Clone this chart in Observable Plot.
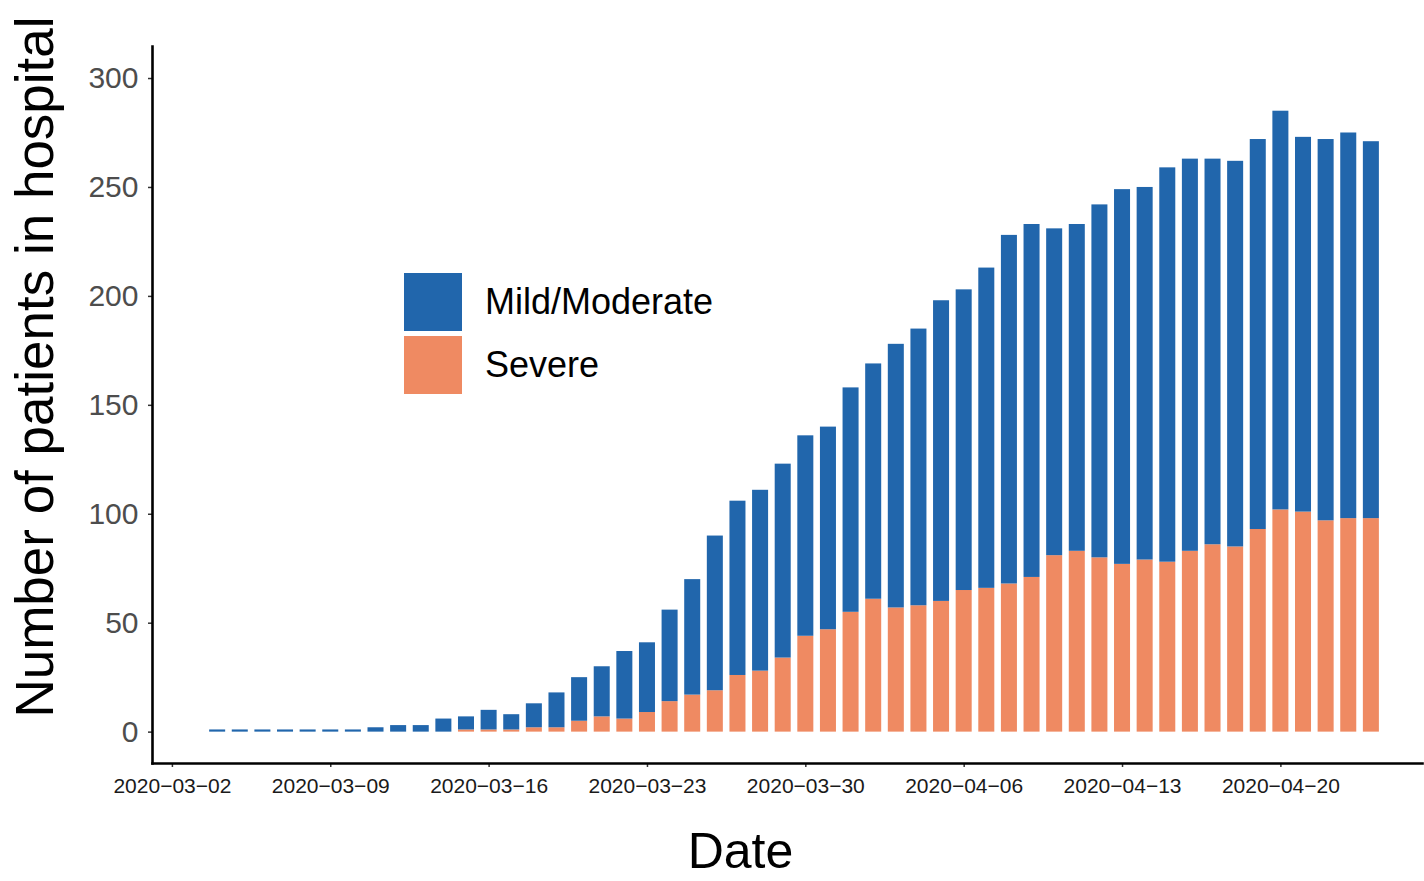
<!DOCTYPE html>
<html>
<head>
<meta charset="utf-8">
<script src="https://cdn.jsdelivr.net/npm/d3@7"></script>
<script src="https://cdn.jsdelivr.net/npm/@observablehq/plot@0.6"></script>
<style>
  html, body { margin: 0; padding: 0; background: #fff; }
  #wrap { position: relative; width: 1424px; height: 881px; font-family: "Liberation Sans", Arial, sans-serif; }
  #legend { position: absolute; left: 404px; top: 273px; }
  .item { position: relative; height: 58px; width: 360px; margin-bottom: 5px; }
  .sw { position: absolute; left: 0; top: 0; width: 58px; height: 58px; }
  .lab { position: absolute; left: 81px; top: 0; height: 58px; line-height: 58px; font-size: 36px; color: #000; white-space: nowrap; }
</style>
</head>
<body>
<div id="wrap"><div id="chart"></div><div id="legend"></div></div>
<script>
// ---- data ----
const dates = [
  "2020-03-04","2020-03-05","2020-03-06","2020-03-07","2020-03-08","2020-03-09","2020-03-10",
  "2020-03-11","2020-03-12","2020-03-13","2020-03-14","2020-03-15","2020-03-16","2020-03-17",
  "2020-03-18","2020-03-19","2020-03-20","2020-03-21","2020-03-22","2020-03-23","2020-03-24",
  "2020-03-25","2020-03-26","2020-03-27","2020-03-28","2020-03-29","2020-03-30","2020-03-31",
  "2020-04-01","2020-04-02","2020-04-03","2020-04-04","2020-04-05","2020-04-06","2020-04-07",
  "2020-04-08","2020-04-09","2020-04-10","2020-04-11","2020-04-12","2020-04-13","2020-04-14",
  "2020-04-15","2020-04-16","2020-04-17","2020-04-18","2020-04-19","2020-04-20","2020-04-21",
  "2020-04-22","2020-04-23","2020-04-24"
];
// total patients in hospital (top of each stacked bar)
const totalPatients = [
  1, 1, 1, 1, 1, 1, 1,
  2, 3, 3, 6, 7, 10, 8,
  13, 18, 25, 30, 37, 41, 56,
  70, 90, 106, 111, 123, 136, 140,
  158, 169, 178, 185, 198, 203, 213,
  228, 233, 231, 233, 242, 249, 250,
  259, 263, 263, 262, 272, 285, 273,
  272, 275, 271
];
// severe patients
const severePatients = [
  0, 0, 0, 0, 0, 0, 0,
  0, 0, 0, 0, 1, 1, 1,
  2, 2, 5, 7, 6, 9, 14,
  17, 19, 26, 28, 34, 44, 47,
  55, 61, 57, 58, 60, 65, 66,
  68, 71, 81, 83, 80, 77, 79,
  78, 83, 86, 85, 93, 102, 101,
  97, 98, 98
];
// mild/moderate = total - severe
const mildPatients = totalPatients.map((t, i) => t - severePatients[i]);

const categories = ["Mild/Moderate", "Severe"];
const categoryColors = ["#2166ac", "#ef8a62"];
const xTickDates = ["2020-03-02","2020-03-09","2020-03-16","2020-03-23","2020-03-30","2020-04-06","2020-04-13","2020-04-20"];
const yTicks = [0, 50, 100, 150, 200, 250, 300];
const xTitle = "Date";
const yTitle = "Number of patients in hospital";

// ---- build ----
const DAY = 864e5;
const parse = s => new Date(s + "T00:00:00Z");
const rows = dates.map((d, i) => ({
  date: parse(d),
  severe: severePatients[i],
  mild: mildPatients[i],
  total: severePatients[i] + mildPatients[i]
}));
const half = 0.354 * DAY;
const first = rows[0].date, last = rows[rows.length - 1].date;

const chart = Plot.plot({
  width: 1424,
  height: 881,
  marginLeft: 152,
  marginRight: 2,
  marginTop: 46,
  marginBottom: 118,
  style: { fontFamily: "'Liberation Sans', Arial, sans-serif", background: "#fff", overflow: "visible" },
  x: { type: "utc", domain: [new Date(+first - 2.88 * DAY), new Date(+last + 2.26 * DAY)] },
  y: { domain: [-14.4, 314.7] },
  marks: [
    Plot.rect(rows, { x1: d => new Date(+d.date - half), x2: d => new Date(+d.date + half), y1: 0, y2: "severe", fill: categoryColors[1] }),
    Plot.rect(rows, { x1: d => new Date(+d.date - half), x2: d => new Date(+d.date + half), y1: "severe", y2: "total", fill: categoryColors[0] }),
    Plot.axisY(yTicks, { tickSize: 4, tickPadding: 10, fontSize: 30, fill: "#4d4d4d", stroke: "#333", strokeWidth: 1.5, label: null }),
    Plot.axisX(xTickDates.map(parse), { tickSize: 4, tickPadding: 11, fontSize: 21, fill: "#1a1a1a", stroke: "#333", strokeWidth: 1.5, tickFormat: d3.utcFormat("%Y\u2212%m\u2212%d"), label: null }),
    Plot.frame({ anchor: "left", stroke: "#000", strokeWidth: 2.6 }),
    Plot.frame({ anchor: "bottom", stroke: "#000", strokeWidth: 2.6 }),
    Plot.text([yTitle], { frameAnchor: "left", textAnchor: "middle", lineAnchor: "middle", dx: -116, dy: -38, rotate: -90, fontSize: 53, fill: "#000" }),
    Plot.text([xTitle], { frameAnchor: "bottom", textAnchor: "middle", lineAnchor: "middle", dx: -47, dy: 88, fontSize: 50, fill: "#000" })
  ]
});
document.getElementById("chart").appendChild(chart);

// legend
const legend = document.getElementById("legend");
categories.forEach((c, i) => {
  const item = document.createElement("div");
  item.className = "item";
  item.innerHTML = `<div class="sw" style="background:${categoryColors[i]}"></div><div class="lab">${c}</div>`;
  legend.appendChild(item);
});
</script>
</body>
</html>
